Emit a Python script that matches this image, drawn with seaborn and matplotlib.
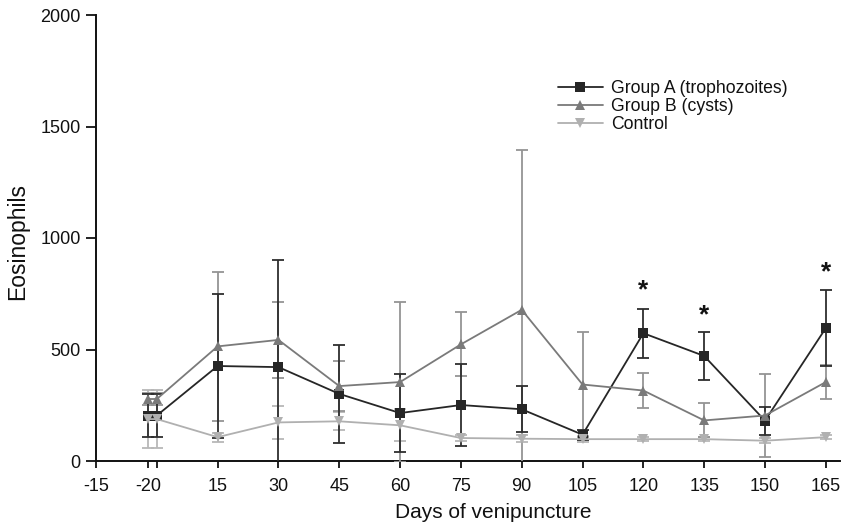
import matplotlib
matplotlib.use("Agg")
import matplotlib.pyplot as plt
import seaborn as sns
import pandas as pd
import numpy as np

# ---- data ----
day_pos = [-2.2, 0, 15, 30, 45, 60, 75, 90, 105, 120, 135, 150, 165]
tick_pos = [-15, -2.2, 0, 15, 30, 45, 60, 75, 90, 105, 120, 135, 150, 165]
tick_labels = ["-15", "-20", "", "15", "30", "45", "60", "75", "90", "105", "120", "135", "150", "165"]

group_a_mean = [204, 204, 426, 421, 301, 215, 251, 232, 118, 573, 471, 181, 596]
group_a_sd = [95, 95, 323, 481, 221, 176, 185, 104, 22, 110, 108, 63, 169]
group_b_mean = [278, 278, 514, 543, 336, 354, 523, 678, 343, 316, 182, 204, 354]
group_b_sd = [25, 25, 334, 171, 112, 357, 143, 716, 237, 80, 76, 184, 76]
control_mean = [188, 188, 107, 173, 178, 160, 103, 100, 98, 98, 98, 91, 107]
control_sd = [130, 130, 20, 75, 40, 72, 15, 15, 12, 10, 10, 12, 10]

star_days = [120, 135, 165]
star_y = [765, 655, 845]

series_names = ["Group A (trophozoites)", "Group B (cysts)", "Control"]
colors = ["#262626", "#7a7a7a", "#b0b0b0"]
err_colors = ["#2e2e2e", "#949494", "#b8b8b8"]
markers = ["s", "^", "v"]

# ---- figure ----
sns.set_style("ticks")
plt.rcParams["font.family"] = ["Liberation Sans", "DejaVu Sans"]

fig = plt.figure(figsize=(8.42, 5.25), dpi=100)
ax = fig.add_axes([96 / 842, 1 - 461 / 525, 744 / 842, 446 / 525])

means = [group_a_mean, group_b_mean, control_mean]
sds = [group_a_sd, group_b_sd, control_sd]

for i in [2, 1, 0]:
    ax.errorbar(day_pos, means[i], yerr=sds[i], fmt="none", ecolor=err_colors[i],
                elinewidth=1.3, capsize=4, capthick=1.3, zorder=2 + (2 - i))

frames = []
for name, m in zip(series_names, means):
    frames.append(pd.DataFrame({"day": day_pos, "value": m, "group": name}))
df = pd.concat(frames, ignore_index=True)

sns.lineplot(data=df, x="day", y="value", hue="group", style="group",
             hue_order=series_names, style_order=series_names,
             palette=colors, markers=markers, dashes=False,
             markersize=7, markeredgewidth=0, linewidth=1.3,
             ax=ax, zorder=6, legend=True, sort=False)

for d, y in zip(star_days, star_y):
    ax.text(d, y, "*", ha="center", va="center", fontsize=19, fontweight="bold",
            color="#111111")

ax.set_xlim(-15, 168.5)
ax.set_ylim(0, 2000)
ax.set_xticks(tick_pos)
ax.set_xticklabels(tick_labels)
ax.set_yticks([0, 500, 1000, 1500, 2000])
ax.tick_params(axis="both", direction="out", width=1.3, labelsize=13,
               color="#111111", labelcolor="#111111")
ax.tick_params(axis="y", length=7, pad=4)
ax.tick_params(axis="x", length=5, pad=7)
for s in ["top", "right"]:
    ax.spines[s].set_visible(False)
for s in ["left", "bottom"]:
    ax.spines[s].set_linewidth(1.4)
    ax.spines[s].set_color("#111111")

ax.set_xlabel("Days of venipuncture", fontsize=15, color="#111111", va="center")
ax.xaxis.set_label_coords((493 - 96) / 744, (461 - 513) / 446)
ax.set_ylabel("Eosinophils", fontsize=16.5, color="#111111", va="center")
ax.yaxis.set_label_coords((18 - 96) / 744, (461 - 241) / 446)

leg = ax.legend(loc="upper left", bbox_to_anchor=(558 / 842, 1 - 80 / 525),
                bbox_transform=fig.transFigure, frameon=False, fontsize=12.7,
                handlelength=2.55, handletextpad=0.45, labelspacing=0.05,
                borderpad=0, borderaxespad=0)
for t in leg.get_texts():
    t.set_color("#111111")

fig.savefig("out.png", dpi=100)
